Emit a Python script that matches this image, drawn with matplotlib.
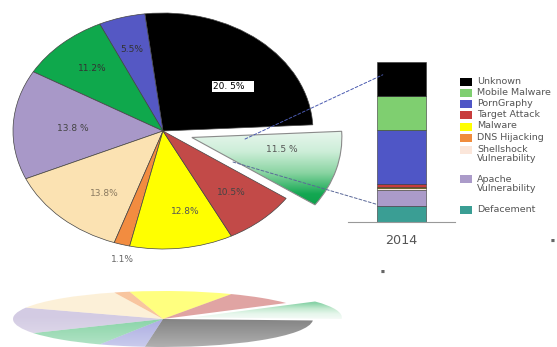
import numpy as np
import matplotlib.pyplot as plt
from matplotlib.colors import LinearSegmentedColormap
from matplotlib.patches import ConnectionPatch, Rectangle

# pie: slice shares as drawn (counterclockwise, starting with the black slice)
pie_share = [26.1, 5.0, 9.7, 15.0, 13.1, 1.7, 11.1, 7.8, 10.5]
pie_labels = ['20. 5%   ', '5.5%', '11.2%', '13.8 %', '13.8%', '1.1%', '12.8%', '10.5%', '11.5 %']
pie_colors = ['#000000', '#5558c4', '#0fa84c', '#a898c8', '#fbe2b2', '#f28c40', '#ffff00', '#c24a48', 'white']

# stacked bar for 2014, bottom to top
bar_names = ['Defacement', 'Apache\nVulnerability', 'Shellshock\nVulnerability', 'DNS Hijacking',
             'Malware', 'Target Attack', 'PornGraphy', 'Mobile Malware', 'Unknown']
bar_values = [10.0, 10.0, 1.2, 0.3, 0.3, 1.9, 33.8, 21.2, 21.3]
bar_colors = ['#3a9e94', '#ab9bc9', '#fbe6da', '#f08c3c', '#ffff00', '#c83c3c', '#4f56c6', '#7fcf70', '#000000']

W, H = 557, 347
fig = plt.figure(figsize=(W / 100, H / 100), dpi=100)


def fx(px):
    return px / W


def fy(py):
    return 1 - py / H


CX, CY, RX, RY = 163, 131, 150, 118
xlim = (-CX / RX, (W - CX) / RX)

green_fade = LinearSegmentedColormap.from_list(
    'fade', [(0, '#eef8f2'), (0.3, '#cdeed8'), (0.55, '#8ad4a2'), (0.8, '#14a852'), (1, '#0a9c48')])


def draw_pie(ax, alpha, edge):
    wedges, _ = ax.pie(pie_share, colors=pie_colors, startangle=3,
                       explode=[0] * 8 + [0.2],
                       wedgeprops=dict(linewidth=0.5 if edge else 0, edgecolor='#444', alpha=alpha))
    ex = wedges[-1]
    ex.set_facecolor('none')
    ex.set_edgecolor('#8a8a8a' if edge else 'none')
    ex.set_linewidth(0.8 if edge else 0)
    ex.set_zorder(3)
    cx, cy = ex.center
    grad = np.linspace(0, 1, 256).reshape(-1, 1)
    img = ax.imshow(grad, cmap=green_fade, extent=(cx, cx + 1.05, cy - 0.62, cy + 0.1),
                    origin='upper', aspect='auto', alpha=alpha, zorder=2)
    img.set_clip_path(ex)
    return wedges


# reflection under the pie
axr = fig.add_axes([0, 0, 1, 1])
draw_pie(axr, 0.5, False)
fade = np.ones((100, 1, 4))
fade[:, 0, 3] = np.linspace(0, 0.4, 100)
axr.imshow(fade, extent=(xlim[0], xlim[1], 1.05, -0.1), origin='upper', aspect='auto', zorder=5)
axr.set_aspect('auto')
axr.set_xlim(xlim)
axr.set_ylim((H - 319) / 28, -319 / 28)
axr.axis('off')

# main pie
ax = fig.add_axes([0, 0, 1, 1])
wedges = draw_pie(ax, 1, True)
ax.set_aspect('auto')
ax.set_xlim(xlim)
ax.set_ylim((CY - H) / RY, CY / RY)
ax.axis('off')

label_shift = [-11, 1, -1, 1, 6, 2, 5, 0, 6]
label_r = [0.6, 0.72, 0.71, 0.6, 0.66, 1.12, 0.7, 0.69, 0.61]
label_colors = ['black', '#333333', '#333333', '#444444', '#8a7a60', '#666666', '#555555', '#444444', '#555555']
for w, txt, sh, r, c in zip(wedges, pie_labels, label_shift, label_r, label_colors):
    mid = np.deg2rad((w.theta1 + w.theta2) / 2 + sh)
    x = w.center[0] + r * np.cos(mid)
    y = w.center[1] + r * np.sin(mid)
    t = ax.text(x, y, txt, ha='center', va='center', fontsize=6.5, color=c, zorder=6)
    if txt.startswith('20'):
        t.set_bbox(dict(boxstyle='square,pad=0.15', fc='white', ec='none'))

# bar
axb = fig.add_axes([fx(348), fy(222), fx(455) - fx(348), 160 / H])
bottoms = np.cumsum([0] + bar_values[:-1])
axb.bar([0] * len(bar_values), bar_values, bottom=bottoms, width=0.916,
        color=bar_colors, edgecolor='#333333', linewidth=0.4)
axb.set_xlim(-1, 1)
axb.set_ylim(0, sum(bar_values))
for s in ['top', 'left', 'right']:
    axb.spines[s].set_visible(False)
axb.spines['bottom'].set_color('#999999')
axb.spines['bottom'].set_linewidth(0.8)
axb.set_xticks([0], ['2014'])
axb.set_yticks([])
axb.tick_params(length=0, pad=9, labelsize=9.2, labelcolor='#555555')
axb.patch.set_visible(False)

# connector lines
for xyA, xyB, col in [((0.547, -0.068), (-0.35, 92), '#4a5ab0'),
                      ((0.467, -0.263), (-0.458, 11), '#5a6898')]:
    con = ConnectionPatch(xyA=xyA, coordsA=ax.transData, xyB=xyB, coordsB=axb.transData,
                          color=col, lw=0.7, ls=(0, (3, 2)))
    fig.add_artist(con)

# legend (top to bottom)
leg_y = [82, 93, 104, 115.5, 126.5, 138, 150, 179.5, 209.5]
for name, col, y in zip(bar_names[::-1], bar_colors[::-1], leg_y):
    fig.add_artist(Rectangle((fx(460), fy(y + 4)), 12 / W, 8 / H, transform=fig.transFigure,
                             facecolor=col, edgecolor='none'))
    fig.text(fx(477), fy(y - 5), name, ha='left', va='top', fontsize=6.8,
             color='#555555', linespacing=1.02)

# small stray marks
fig.text(fx(553), fy(241), '■', fontsize=3, color='#666666', ha='center', va='center')
fig.text(fx(383), fy(272), '■', fontsize=3, color='#666666', ha='center', va='center')

fig.savefig('out.png', dpi=100)
